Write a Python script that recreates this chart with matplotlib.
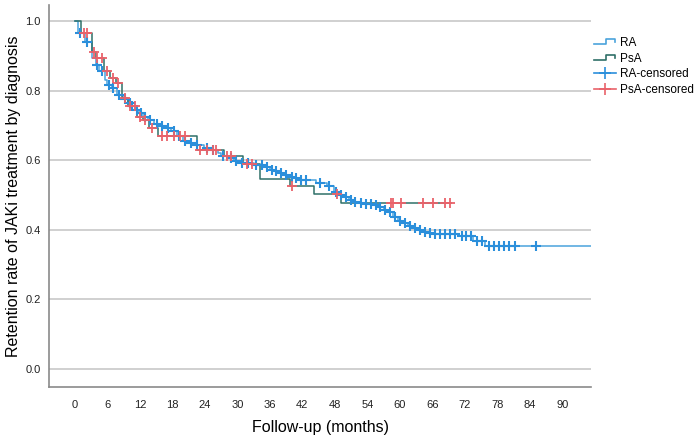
import numpy as np
import matplotlib
matplotlib.use("Agg")
import matplotlib.pyplot as plt
from matplotlib.lines import Line2D
from matplotlib.legend_handler import HandlerBase

plt.rcParams['font.family'] = ['Liberation Sans', 'DejaVu Sans']

# Kaplan-Meier steps (months, retention after the drop)
ra_times = [0, 0.5, 1.8, 3.2, 3.8, 4.5, 5.5, 5.9, 6.8, 7.7, 8.8, 9.8, 10.3, 11.0, 11.8,
            12.6, 13.4, 14.5, 15.6, 16.8, 17.8, 18.8, 19.9, 21.0, 22.2, 23.8, 25.0, 26.5,
            27.0, 28.5, 29.4, 30.4, 33.0, 35.0, 36.0, 36.9, 37.8, 38.7, 39.6, 40.5, 41.4,
            44.5, 46.5, 47.8, 48.8, 49.7, 50.6, 51.5, 52.4, 53.3, 55.2, 56.1, 57.0, 57.9,
            58.8, 59.6, 60.6, 61.5, 62.4, 63.3, 64.2, 65.2, 66.0, 70.7, 73.5, 75.7, 96.0]
ra_surv = [1.0, 0.965, 0.940, 0.895, 0.875, 0.856, 0.830, 0.817, 0.808, 0.789, 0.777,
           0.765, 0.755, 0.745, 0.736, 0.726, 0.717, 0.705, 0.700, 0.693, 0.683, 0.670,
           0.656, 0.649, 0.645, 0.636, 0.630, 0.620, 0.611, 0.606, 0.598, 0.592, 0.587,
           0.582, 0.573, 0.568, 0.563, 0.558, 0.553, 0.549, 0.544, 0.536, 0.525, 0.510,
           0.501, 0.494, 0.486, 0.481, 0.477, 0.475, 0.471, 0.465, 0.458, 0.450, 0.438,
           0.424, 0.419, 0.412, 0.405, 0.400, 0.395, 0.392, 0.388, 0.381, 0.369, 0.352,
           0.352]
ra_censored = [0.9, 2.2, 4.0, 4.9, 6.2, 7.1, 8.2, 9.2, 10.1, 10.6, 11.4, 12.2, 13.0, 13.9,
               15.1, 16.0, 17.2, 18.2, 19.3, 20.3, 21.5, 22.5, 24.3, 25.5, 27.4, 28.9,
               29.8, 30.8, 32.0, 33.5, 34.5, 35.4, 36.3, 37.2, 38.1, 39.0, 40.0, 40.9,
               41.8, 42.7, 45.2, 47.0, 48.2, 49.1, 50.0, 50.9, 51.8, 52.8, 53.7, 54.6,
               55.5, 56.4, 57.3, 58.2, 59.1, 60.0, 61.0, 61.9, 62.8, 63.7, 64.6, 65.6,
               66.5, 67.4, 68.4, 69.2, 70.1, 71.4, 72.3, 73.2, 74.2, 75.1, 76.5, 77.4,
               78.3, 79.3, 80.2, 81.2, 85.2]

psa_times = [0, 1.2, 3.1, 3.8, 5.4, 6.4, 7.6, 8.7, 9.7, 11.5, 12.5, 13.6, 15.3, 22.5,
             27.5, 31.0, 34.2, 39.8, 44.2, 49.2, 69.5]
psa_surv = [1.0, 0.965, 0.913, 0.894, 0.856, 0.837, 0.822, 0.779, 0.755, 0.726, 0.717,
            0.693, 0.670, 0.630, 0.611, 0.590, 0.547, 0.525, 0.502, 0.477, 0.477]
psa_censored = [1.6, 2.2, 3.5, 4.0, 4.9, 5.85, 7.1, 8.0, 9.2, 10.2, 11.1, 12.0, 12.9,
                14.2, 16.0, 16.9, 18.2, 19.4, 20.3, 23.1, 24.3, 25.5, 26.1, 28.0, 28.9,
                31.7, 32.6, 40.1, 48.3, 58.3, 58.7, 60.3, 64.3, 66.1, 68.3, 69.2]

x_ticks = list(range(0, 91, 6))
y_ticks = [0.0, 0.2, 0.4, 0.6, 0.8, 1.0]

RA_LINE = '#4aa3dc'
PSA_LINE = '#2f7068'
RA_CENS = '#2b8fdb'
PSA_CENS = '#e9626a'


def level_at(times, surv, t):
    idx = np.searchsorted(times, t, side='right') - 1
    return np.asarray(surv)[idx]


class StepHandler(HandlerBase):
    # small step icon like the SPSS legend
    def create_artists(self, legend, orig_handle, xdescent, ydescent,
                       width, height, fontsize, trans):
        xs = np.array([0.0, 0.55, 0.55, 0.95, 0.95]) * width - xdescent
        ys = np.array([0.15, 0.15, 0.75, 0.75, 0.4]) * height - ydescent
        ln = Line2D(xs, ys, color=orig_handle.get_color(), lw=1.2)
        ln.set_transform(trans)
        return [ln]


fig = plt.figure(figsize=(6.99, 4.38), dpi=100)
ax = fig.add_axes([0.0705, 0.1153, 0.775, 0.8733])

ax.step(ra_times, ra_surv, where='post', color=RA_LINE, lw=1.1, zorder=3)
ax.step(psa_times, psa_surv, where='post', color=PSA_LINE, lw=1.1, zorder=3)

ax.plot(ra_censored, level_at(ra_times, ra_surv, ra_censored), '+', color=RA_CENS,
        ms=7, mew=1.5, zorder=4)
ax.plot(psa_censored, level_at(psa_times, psa_surv, psa_censored), '+', color=PSA_CENS,
        ms=7, mew=1.3, zorder=4)

ax.set_xlim(-4.75, 95.3)
ax.set_ylim(-0.054, 1.047)
ax.set_xticks(x_ticks)
ax.set_yticks(y_ticks)
ax.set_yticklabels([f"{v:.1f}" for v in y_ticks])
ax.tick_params(length=0, labelsize=8, colors='#222222', pad=6)
ax.tick_params(axis='x', pad=9)
ax.yaxis.grid(True, color='#c8c8c8', lw=1.2)
ax.set_axisbelow(True)
for s in ['top', 'right']:
    ax.spines[s].set_visible(False)
for s in ['left', 'bottom']:
    ax.spines[s].set_color('#8a8a8a')
    ax.spines[s].set_linewidth(1.2)

ax.set_xlabel("Follow-up (months)", fontsize=11.5, labelpad=7)
ax.set_ylabel("Retention rate of JAKi treatment by diagnosis", fontsize=11.5, labelpad=3)

handles = [Line2D([], [], color=RA_LINE), Line2D([], [], color=PSA_LINE),
           Line2D([], [], color=RA_CENS, marker='+', ms=9, mew=1.2, lw=1.2),
           Line2D([], [], color=PSA_CENS, marker='+', ms=9, mew=1.2, lw=1.2)]
labels = ["RA", "PsA", "RA-censored", "PsA-censored"]
fig.legend(handles, labels, loc='upper left', bbox_to_anchor=(0.843, 0.927),
           frameon=False, fontsize=8.5, handlelength=1.9, handletextpad=0.3,
           labelspacing=0.33, borderaxespad=0, numpoints=1,
           handler_map={handles[0]: StepHandler(), handles[1]: StepHandler()})

fig.savefig("out.png", dpi=100)
